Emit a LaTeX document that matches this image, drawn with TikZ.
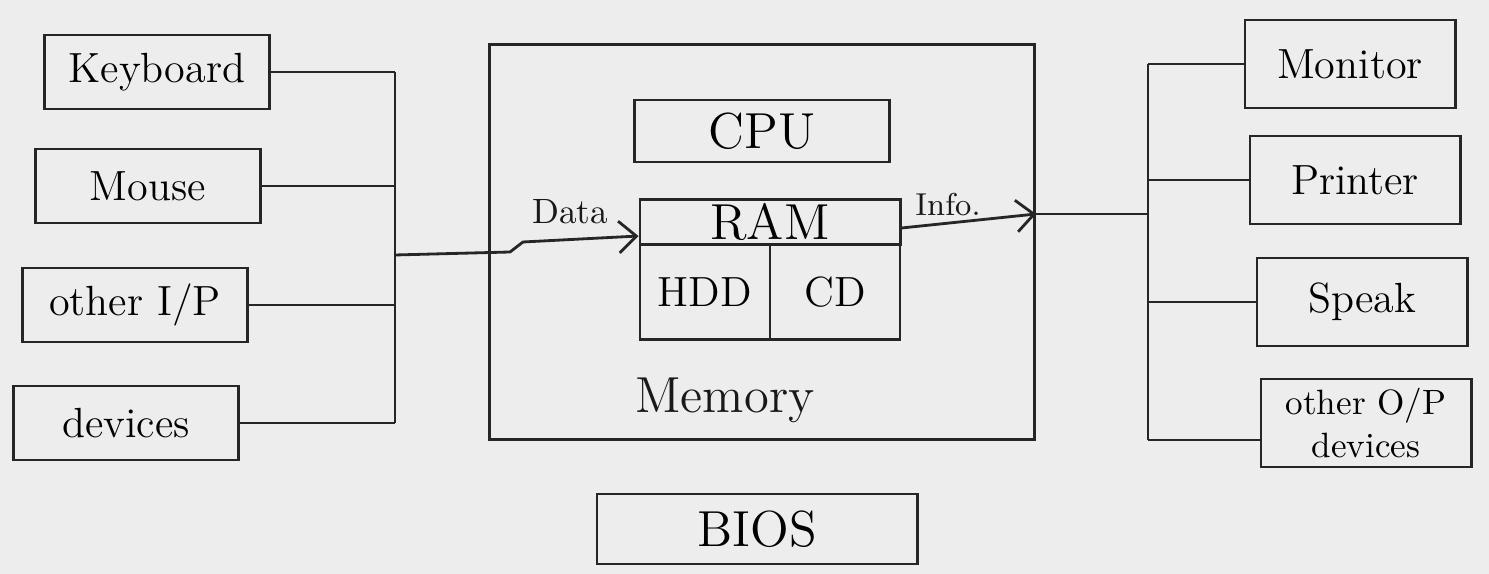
\documentclass[tikz,border=0pt]{standalone}
\usepackage{tikz}
\usetikzlibrary{arrows.meta, positioning, calc}

\begin{document}
\begin{tikzpicture}[
    x=0.01cm, y=-0.01cm,
    ink/.style={draw=black!85, thick},
    box/.style={rectangle, ink, inner sep=0pt, align=center, font=\large},
    inbox/.style={box, minimum width=2.25cm, minimum height=0.74cm},
    outbox/.style={box, minimum width=2.1cm, minimum height=0.88cm},
    lbl/.style={inner sep=1pt, text=black!90},
    arrow/.style={ink, -{Straight Barb[length=5pt, width=9pt]}},
]

\fill[black!7] (0,0) rectangle (1489,574);
\useasboundingbox (0,0) rectangle (1489,574);

% input devices
\node[inbox] (kbd) at (157,72) {Keyboard};
\node[inbox] (mouse) at (148,186) {Mouse};
\node[inbox] (otherin) at (135,305) {other I/P};
\node[inbox] (dev) at (126,423) {devices};

% computer
\node[box, minimum width=5.45cm, minimum height=3.95cm] (mem) at (762,242) {};
\node[box, font=\Large, minimum width=2.55cm, minimum height=0.62cm] (cpu) at (762,131) {CPU};
\node[box, font=\Large, minimum width=2.6cm, minimum height=0.45cm] (ram) at (770,222) {RAM};
\node[box, minimum width=1.3cm, minimum height=0.95cm] (hdd) at (705,292) {HDD};
\node[box, minimum width=1.3cm, minimum height=0.95cm] (cd) at (835,292) {CD};
\node[lbl, font=\Large] (memlbl) at (725,400) {Memory};
\node[box, font=\Large, minimum width=3.2cm, minimum height=0.7cm] (bios) at (757,529) {BIOS};

% output devices
\node[outbox] (mon) at (1350,64) {Monitor};
\node[outbox] (prn) at (1355,180) {Printer};
\node[outbox] (spk) at (1362,302) {Speak};
\node[outbox, font=\normalsize, text width=2cm] (otherout) at (1366,423) {other O/P\\ devices};

% buses
\coordinate (inbus) at (395,255);
\coordinate (outbus) at (1148,214);

\draw[ink] (kbd.east -| inbus) -- (dev.east -| inbus);
\draw[ink] (kbd.east) -- (kbd.east -| inbus);
\draw[ink] (mouse.east) -- (mouse.east -| inbus);
\draw[ink] (otherin.east) -- (otherin.east -| inbus);
\draw[ink] (dev.east) -- (dev.east -| inbus);

\draw[arrow] (inbus) -- ++(115,-3) -- ++(13,-10) -- ([yshift=-0.14cm]ram.west);
\node[lbl] (data) at (570,212) {Data};

\draw[arrow] ([yshift=-0.06cm]ram.east) -- (outbus -| mem.east);
\draw[ink] (outbus -| mem.east) -- (outbus);
\node[lbl, font=\small] (info) at (948,205) {Info.};

\draw[ink] (mon.west -| outbus) -- ([yshift=-0.17cm]otherout.west -| outbus);
\draw[ink] (mon.west) -- (mon.west -| outbus);
\draw[ink] (prn.west) -- (prn.west -| outbus);
\draw[ink] (spk.west) -- (spk.west -| outbus);
\draw[ink] ([yshift=-0.17cm]otherout.west) -- ([yshift=-0.17cm]otherout.west -| outbus);

\end{tikzpicture}
\end{document}
